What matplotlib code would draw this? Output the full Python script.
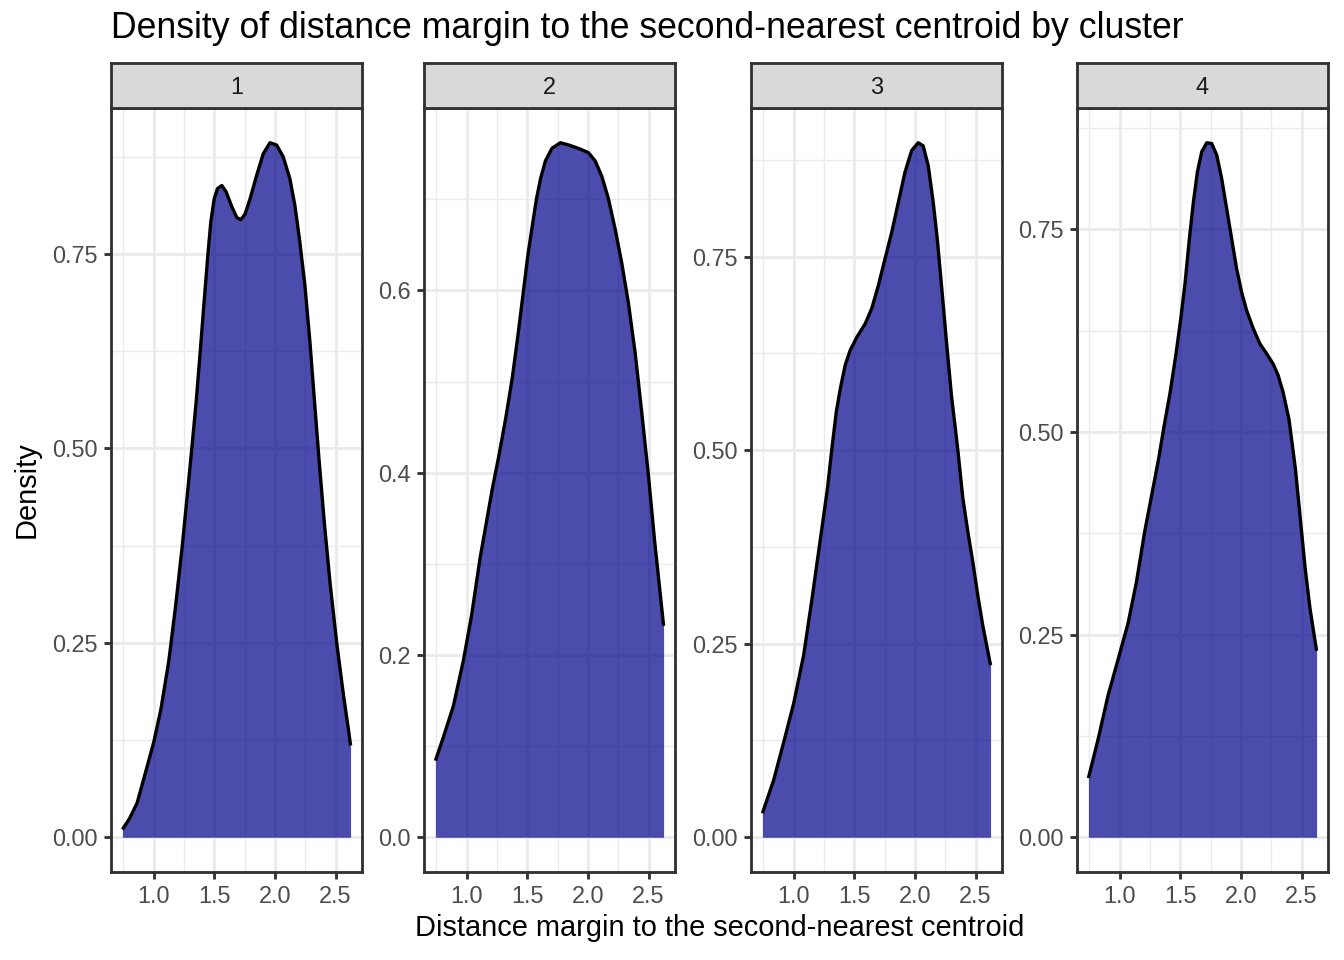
import numpy as np
import matplotlib
matplotlib.use('Agg')
import matplotlib.pyplot as plt
from matplotlib.ticker import FixedLocator

plt.rcParams['font.family'] = ['Liberation Sans', 'DejaVu Sans']

# density curves, one pair of lists per cluster
x1 = [0.742, 0.800, 0.863, 0.918, 1.000, 1.060, 1.124, 1.179, 1.234, 1.279, 1.315, 1.351,
      1.384, 1.416, 1.447, 1.471, 1.499, 1.526, 1.562, 1.597, 1.644, 1.685, 1.718, 1.753,
      1.795, 1.849, 1.904, 1.959, 2.014, 2.068, 2.123, 2.164, 2.205, 2.247, 2.288, 2.329,
      2.364, 2.410, 2.456, 2.511, 2.566, 2.605, 2.624]
y1 = [0.010, 0.024, 0.044, 0.075, 0.122, 0.165, 0.226, 0.295, 0.372, 0.443, 0.501, 0.561,
      0.625, 0.689, 0.749, 0.791, 0.821, 0.834, 0.838, 0.830, 0.811, 0.797, 0.794, 0.801,
      0.821, 0.851, 0.879, 0.893, 0.890, 0.875, 0.847, 0.813, 0.766, 0.710, 0.638, 0.555,
      0.485, 0.400, 0.325, 0.248, 0.182, 0.140, 0.118]

x2 = [0.742, 0.808, 0.890, 0.973, 1.041, 1.110, 1.211, 1.266, 1.321, 1.375, 1.422, 1.466,
      1.504, 1.540, 1.575, 1.608, 1.649, 1.704, 1.773, 1.855, 1.937, 2.005, 2.060, 2.115,
      2.170, 2.225, 2.279, 2.334, 2.389, 2.444, 2.499, 2.550, 2.590, 2.624]
y2 = [0.084, 0.110, 0.144, 0.194, 0.244, 0.306, 0.382, 0.419, 0.459, 0.503, 0.550, 0.597,
      0.638, 0.670, 0.700, 0.722, 0.742, 0.756, 0.762, 0.759, 0.755, 0.751, 0.742, 0.725,
      0.700, 0.667, 0.630, 0.586, 0.532, 0.466, 0.397, 0.325, 0.275, 0.232]

x3 = [0.742, 0.835, 0.918, 1.000, 1.082, 1.151, 1.220, 1.279, 1.315, 1.351, 1.384, 1.425,
      1.466, 1.521, 1.589, 1.644, 1.699, 1.753, 1.808, 1.863, 1.918, 1.973, 2.027, 2.068,
      2.110, 2.151, 2.184, 2.219, 2.260, 2.301, 2.354, 2.395, 2.436, 2.477, 2.518, 2.559,
      2.624]
y3 = [0.031, 0.074, 0.123, 0.173, 0.235, 0.308, 0.385, 0.451, 0.502, 0.549, 0.579, 0.610,
      0.629, 0.646, 0.663, 0.683, 0.713, 0.747, 0.781, 0.820, 0.859, 0.887, 0.897, 0.893,
      0.867, 0.820, 0.773, 0.713, 0.640, 0.571, 0.500, 0.438, 0.395, 0.356, 0.313, 0.274,
      0.222]

x4 = [0.742, 0.822, 0.904, 0.986, 1.069, 1.137, 1.206, 1.274, 1.321, 1.367, 1.416, 1.463,
      1.504, 1.540, 1.575, 1.608, 1.641, 1.677, 1.718, 1.759, 1.800, 1.841, 1.882, 1.923,
      1.964, 2.005, 2.047, 2.101, 2.156, 2.211, 2.266, 2.307, 2.348, 2.396, 2.449, 2.489,
      2.529, 2.569, 2.624]
y4 = [0.073, 0.121, 0.175, 0.219, 0.264, 0.314, 0.377, 0.430, 0.467, 0.508, 0.549, 0.595,
      0.640, 0.685, 0.739, 0.784, 0.821, 0.846, 0.857, 0.856, 0.842, 0.813, 0.776, 0.739,
      0.702, 0.673, 0.650, 0.628, 0.609, 0.597, 0.584, 0.570, 0.549, 0.516, 0.455, 0.394,
      0.333, 0.283, 0.230]

clusters = ['1', '2', '3', '4']
curves = [(x1, y1), (x2, y2), (x3, y3), (x4, y4)]
yticks = [[0, 0.25, 0.5, 0.75], [0, 0.2, 0.4, 0.6], [0, 0.25, 0.5, 0.75], [0, 0.25, 0.5, 0.75]]
ylabels = [['0.00', '0.25', '0.50', '0.75'], ['0.0', '0.2', '0.4', '0.6'],
           ['0.00', '0.25', '0.50', '0.75'], ['0.00', '0.25', '0.50', '0.75']]
xticks = [1.0, 1.5, 2.0, 2.5]
xlabels = ['1.0', '1.5', '2.0', '2.5']

W, H = 1344, 960
lefts = [111, 424, 751, 1077]
pw = 251
top, bottom = 108, 872
strip_top = 63

fig = plt.figure(figsize=(7, 5), dpi=192)

xmin, xmax = min(x1), max(x1)
xpad = (xmax - xmin) * 0.05

for i in range(4):
    l = lefts[i] / W
    b = 1 - bottom / H
    ax = fig.add_axes([l, b, pw / W, (bottom - top) / H])
    xs, ys = curves[i]
    ax.fill_between(xs, 0, ys, color='#00008B', alpha=0.7, linewidth=0, zorder=2)
    ax.plot(xs, ys, color='black', lw=1.25, zorder=3, solid_joinstyle='round',
            solid_capstyle='butt')
    ymax = max(ys)
    ax.set_xlim(xmin - xpad, xmax + xpad)
    ax.set_ylim(-ymax * 0.05, ymax * 1.05)

    ax.set_xticks(xticks)
    ax.set_xticklabels(xlabels)
    ax.set_yticks(yticks[i])
    ax.set_yticklabels(ylabels[i])
    ax.xaxis.set_minor_locator(FixedLocator([0.75, 1.25, 1.75, 2.25]))
    st = yticks[i][1]
    ax.yaxis.set_minor_locator(FixedLocator([st / 2 + st * k for k in range(5)]))
    ax.grid(which='major', color='#EBEBEB', lw=1.07, zorder=0)
    ax.grid(which='minor', color='#EBEBEB', lw=0.53, zorder=0)
    ax.set_axisbelow(True)
    ax.tick_params(which='major', length=2.75, width=1.07, color='#333333',
                   labelsize=8.8, labelcolor='#4D4D4D', pad=2.2)
    ax.tick_params(which='minor', length=0)
    for s in ax.spines.values():
        s.set_color('#333333')
        s.set_linewidth(1.07)

    # facet strip
    sax = fig.add_axes([l, 1 - top / H, pw / W, (top - strip_top) / H])
    sax.set_facecolor('#D9D9D9')
    sax.set_xticks([])
    sax.set_yticks([])
    for s in sax.spines.values():
        s.set_color('#333333')
        s.set_linewidth(1.07)
    sax.text(0.5, 0.5, clusters[i], ha='center', va='center_baseline', fontsize=8.8,
             color='#1A1A1A', transform=sax.transAxes)

fig.text(111 / W, 1 - 29 / H, 'Density of distance margin to the second-nearest centroid by cluster',
         ha='left', va='center', fontsize=13.35, color='black')
fig.text((lefts[0] + lefts[3] + pw) / 2 / W, 1 - 928 / H,
         'Distance margin to the second-nearest centroid',
         ha='center', va='center', fontsize=10.9, color='black')
fig.text(27 / W, 1 - (top + bottom) / 2 / H, 'Density', rotation=90,
         ha='center', va='center', fontsize=10.9, color='black')

fig.savefig('out.png', dpi=192)
